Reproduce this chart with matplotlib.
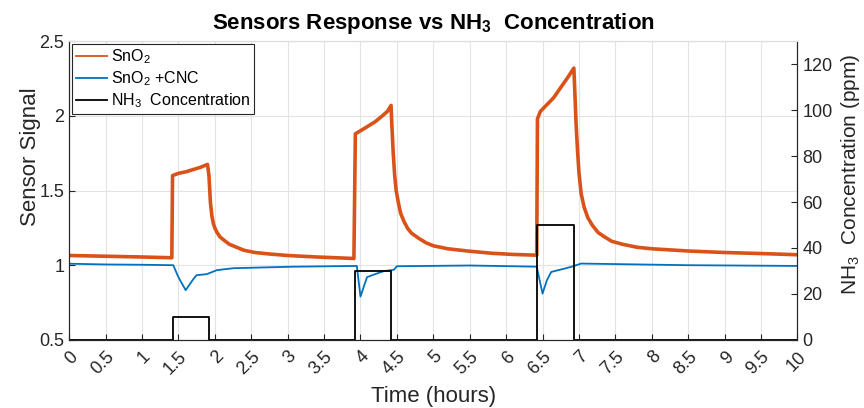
import numpy as np
import matplotlib
matplotlib.use("Agg")
from matplotlib import pyplot as plt

plt.rcParams['font.family'] = ['Liberation Sans', 'DejaVu Sans']
plt.rcParams['mathtext.default'] = 'regular'

# SnO2 sensor
t_sno2 = [0, 0.5, 1.0, 1.41,
          1.42, 1.5, 1.6, 1.7, 1.8, 1.9,
          1.92, 1.94, 1.96, 1.98, 2.0, 2.03, 2.07, 2.12, 2.2, 2.3, 2.4, 2.55,
          2.75, 3.0, 3.4, 3.91,
          3.93, 4.0, 4.1, 4.2, 4.3, 4.37, 4.42,
          4.43, 4.45, 4.47, 4.49, 4.52, 4.55, 4.6, 4.65, 4.7, 4.8, 4.9, 5.0,
          5.2, 5.47, 5.8, 6.1, 6.42,
          6.43, 6.47, 6.55, 6.65, 6.75, 6.85, 6.93,
          6.94, 6.96, 6.98, 7.0, 7.03, 7.07, 7.12, 7.18, 7.26, 7.35, 7.45, 7.6,
          7.8, 8.0, 8.5, 9.0, 9.5, 10.0]
v_sno2 = [1.065, 1.06, 1.055, 1.05,
          1.60, 1.615, 1.625, 1.64, 1.655, 1.675,
          1.60, 1.42, 1.33, 1.28, 1.25, 1.22, 1.19, 1.17, 1.14, 1.12, 1.10, 1.085,
          1.075, 1.065, 1.055, 1.045,
          1.88, 1.90, 1.93, 1.96, 2.00, 2.03, 2.07,
          1.95, 1.75, 1.60, 1.50, 1.42, 1.35, 1.29, 1.245, 1.215, 1.18, 1.15, 1.13,
          1.11, 1.095, 1.08, 1.072, 1.067,
          1.98, 2.03, 2.07, 2.12, 2.19, 2.26, 2.32,
          2.20, 1.95, 1.77, 1.62, 1.48, 1.39, 1.32, 1.27, 1.22, 1.19, 1.16, 1.14,
          1.12, 1.11, 1.095, 1.085, 1.078, 1.07]

# SnO2 + CNC sensor
t_cnc = [0, 0.5, 1.0, 1.43, 1.5, 1.6, 1.71, 1.75, 1.89, 2.03, 2.26, 3.08, 3.95,
         4.0, 4.09, 4.2, 4.32, 4.46, 4.5, 5.5, 6.42,
         6.5, 6.56, 6.62, 6.8, 6.9, 7.03, 8.5, 10.0]
v_cnc = [1.01, 1.005, 1.003, 1.0, 0.92, 0.833, 0.91, 0.933, 0.94, 0.967, 0.98, 0.99, 0.995,
         0.79, 0.92, 0.94, 0.96, 0.97, 0.993, 0.998, 0.99,
         0.81, 0.90, 0.955, 0.977, 0.99, 1.011, 1.0, 0.995]

# NH3 concentration steps (ppm)
t_nh3 = [0, 1.42, 1.92, 3.92, 4.42, 6.43, 6.93, 10.0]
ppm_nh3 = [0, 10, 0, 30, 0, 50, 0, 0]

xticks = np.arange(0, 10.5, 0.5)
xticklabels = ['0', '0.5', '1', '1.5', '2', '2.5', '3', '3.5', '4', '4.5', '5',
               '5.5', '6', '6.5', '7', '7.5', '8', '8.5', '9', '9.5', '10']

orange = '#D95319'
blue = '#0072BD'
axcol = '#262626'

fig = plt.figure(figsize=(8.64, 4.08), dpi=100)
ax = fig.add_axes([0.080, 0.167, 0.843, 0.732])
ax2 = ax.twinx()

l1, = ax.plot(t_sno2, v_sno2, color=orange, lw=2.6, label='SnO$_2$')
l2, = ax.plot(t_cnc, v_cnc, color=blue, lw=1.3, label='SnO$_2$ +CNC')
l3, = ax2.plot(t_nh3, ppm_nh3, color='black', lw=1.3, drawstyle='steps-post',
               label='NH$_3$  Concentration')

ax.set_xlim(0, 10)
ax.set_ylim(0.5, 2.5)
ax2.set_ylim(0, 130)
ax.set_xticks(xticks)
ax.set_xticklabels(xticklabels, rotation=45, ha='right', va='top',
                   rotation_mode='anchor')
ax.set_yticks([0.5, 1, 1.5, 2, 2.5])
ax.set_yticklabels(['0.5', '1', '1.5', '2', '2.5'])
ax2.set_yticks(np.arange(0, 121, 20))

ax.grid(True, color='#e3e3e3', lw=0.8)
ax.set_axisbelow(True)
for a in (ax, ax2):
    a.tick_params(direction='in', labelsize=13, colors=axcol, length=4)
    for s in a.spines.values():
        s.set_color(axcol)
    a.spines['top'].set_color('#dddddd')
ax.tick_params(axis='x', pad=6)

ax.set_xlabel('Time (hours)', fontsize=16, color=axcol)
ax.xaxis.set_label_coords(0.5, -0.155)
ax.set_ylabel('Sensor Signal', fontsize=16, color=axcol)
ax.yaxis.set_label_coords(-0.039, 0.614)
ax2.set_ylabel('NH$_3$  Concentration (ppm)', fontsize=15, color=axcol)
ax2.yaxis.set_label_coords(1.057, 0.554)
ax.set_title('Sensors Response vs NH$_3$  Concentration', fontsize=16,
             fontweight='bold', pad=9)

leg = ax2.legend(handles=[l1, l2, l3], loc='upper left', fontsize=11.5, frameon=True,
                 fancybox=False, edgecolor=axcol, framealpha=1, borderpad=0.25,
                 handlelength=2.0, handletextpad=0.2, labelspacing=0.2,
                 borderaxespad=0.15)
leg.get_frame().set_linewidth(0.8)
for h in leg.get_lines():
    h.set_linewidth(1.3)

fig.savefig('out.png', dpi=100)
